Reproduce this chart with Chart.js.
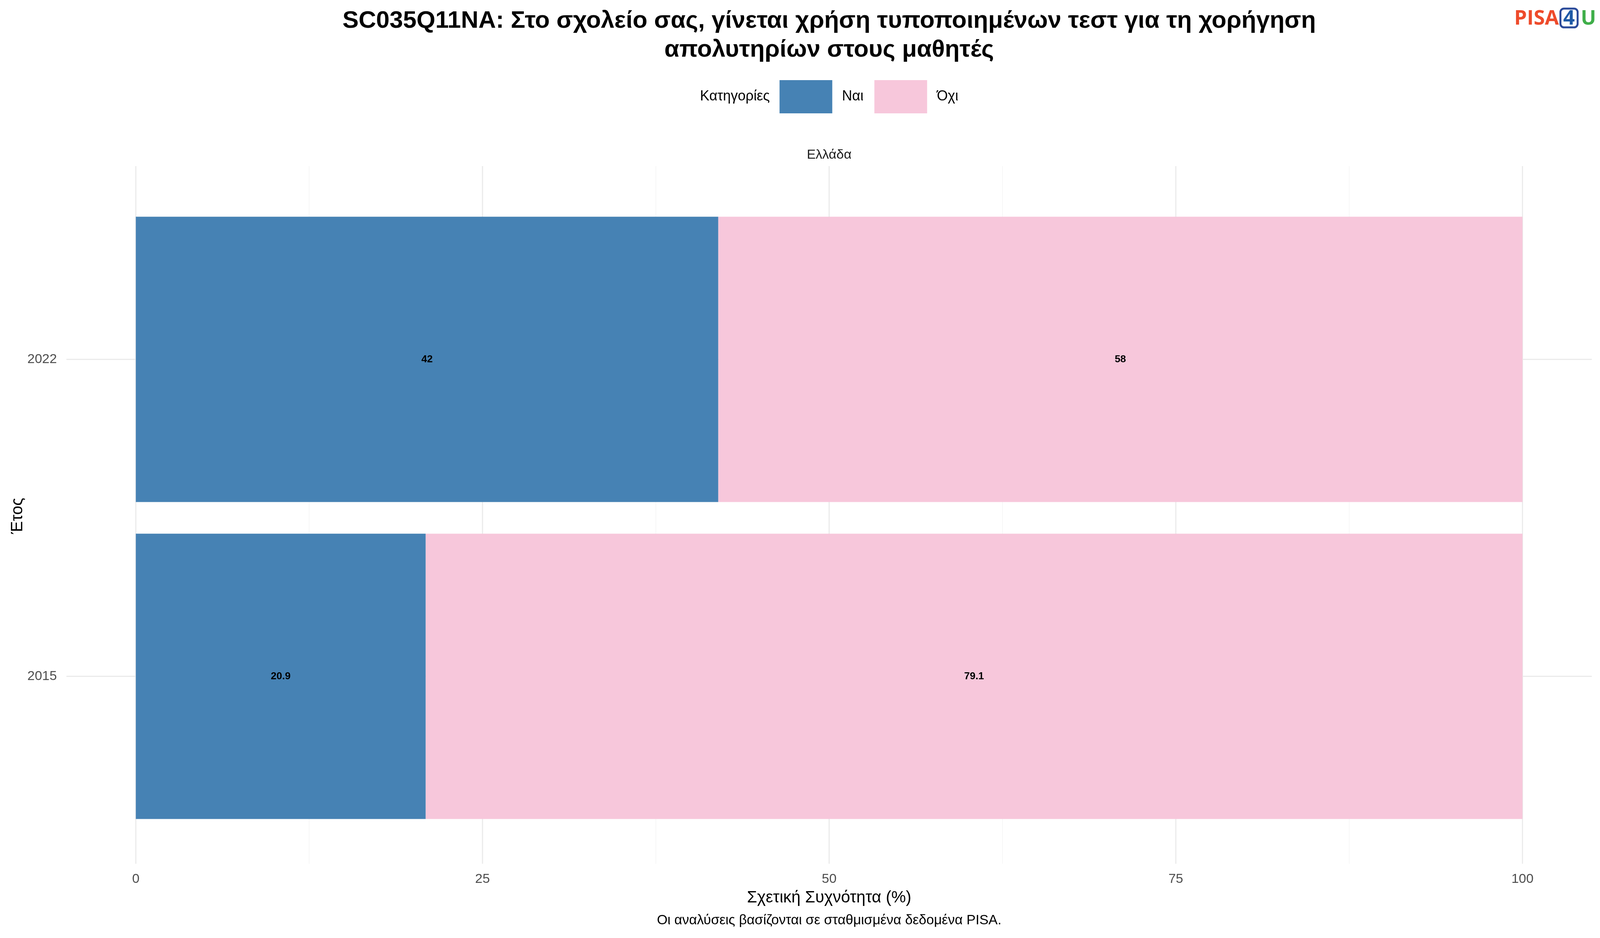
<!DOCTYPE html>
<html><head><meta charset="utf-8">
<script src="https://cdn.jsdelivr.net/npm/chart.js@4"></script>
<style>html,body{margin:0;padding:0;background:#fff;overflow:hidden}#w{width:100vw;height:100vh}</style>
</head><body><div id="w"><canvas id="c"></canvas></div>
<script>
const years = ['2022', '2015'];
const categories = ['Ναι', 'Όχι'];
const naiValues = [42, 20.9];
const ochiValues = [58, 79.1];
const xTicks = [0, 25, 50, 75, 100];
const colors = ['#4682B4', '#F7C7DB'];
const FONT = '"Liberation Sans", Arial, sans-serif';
const K = window.innerWidth / 4500;
const X = v => v * K;

const overlay = {
  id: 'overlay',
  beforeDatasetsDraw(chart) {
    const ctx = chart.ctx, xs = chart.scales.x;
    ctx.save();
    for (let v = 0; v <= 100; v += 12.5) {
      const px = xs.getPixelForValue(v);
      const major = v % 25 === 0;
      ctx.strokeStyle = major ? '#ebebeb' : '#f4f4f4';
      ctx.lineWidth = major ? 3 : 1.5;
      ctx.beginPath(); ctx.moveTo(px, 425); ctx.lineTo(px, 2210); ctx.stroke();
    }
    ctx.restore();
  },
  afterDraw(chart) {
    const ctx = chart.ctx, xs = chart.scales.x, ys = chart.scales.y;
    const cx = (chart.chartArea.left + chart.chartArea.right) / 2;
    ctx.save();
    ctx.textBaseline = 'middle';
    ctx.fillStyle = '#000'; ctx.textAlign = 'center';
    ctx.font = 'bold 62px ' + FONT;
    ctx.fillText('SC035Q11NA: Στο σχολείο σας, γίνεται χρήση τυποποιημένων τεστ για τη χορήγηση', cx, 54);
    ctx.fillText('απολυτηρίων στους μαθητές', cx, 128);
    // legend (centered group)
    ctx.font = '36px ' + FONT;
    const w0 = ctx.measureText('Κατηγορίες').width, w1 = ctx.measureText(categories[0]).width, w2 = ctx.measureText(categories[1]).width;
    const box = 135, gap = 25, gap2 = 28;
    const total = w0 + gap + box + gap + w1 + gap2 + box + gap + w2;
    let x = cx - total / 2;
    ctx.textAlign = 'left'; ctx.fillStyle = '#000';
    ctx.fillText('Κατηγορίες', x, 247); x += w0 + gap;
    ctx.fillStyle = colors[0]; ctx.fillRect(x, 205, box, 85); x += box + gap;
    ctx.fillStyle = '#000'; ctx.fillText(categories[0], x, 247); x += w1 + gap2;
    ctx.fillStyle = colors[1]; ctx.fillRect(x, 205, box, 85); x += box + gap;
    ctx.fillStyle = '#000'; ctx.fillText(categories[1], x, 247);
    ctx.textAlign = 'center'; ctx.font = '34px ' + FONT; ctx.fillStyle = '#1a1a1a';
    ctx.fillText('Ελλάδα', cx, 397);
    ctx.fillStyle = '#4d4d4d'; ctx.font = '34px ' + FONT;
    xTicks.forEach(v => ctx.fillText(String(v), xs.getPixelForValue(v), 2250));
    ctx.textAlign = 'right';
    years.forEach((y, i) => ctx.fillText(y, X(160), ys.getPixelForValue(i)));
    ctx.fillStyle = '#000'; ctx.textAlign = 'center'; ctx.font = '42px ' + FONT;
    ctx.fillText('Σχετική Συχνότητα (%)', cx, 2297);
    ctx.save(); ctx.translate(X(50), 1320); ctx.rotate(-Math.PI / 2);
    ctx.fillText('Έτος', 0, 0); ctx.restore();
    ctx.font = '35px ' + FONT;
    ctx.fillText('Οι αναλύσεις βασίζονται σε σταθμισμένα δεδομένα PISA.', cx, 2355);
    ctx.font = 'bold 26px ' + FONT; ctx.fillStyle = '#000';
    chart.data.datasets.forEach((ds, di) => {
      chart.getDatasetMeta(di).data.forEach((bar, i) => {
        ctx.fillText(String(ds.data[i]), (bar.x + bar.base) / 2, bar.y);
      });
    });
    // logo, right aligned
    ctx.font = 'bold 52px "Open Sans", ' + FONT;
    const pw = ctx.measureText('PISA').width, uw = ctx.measureText('U').width;
    const right = chart.width - 10;
    const ux = right - uw, bx = ux - 52, px = bx - 4 - pw;
    ctx.textAlign = 'left';
    ctx.fillStyle = '#EE4B2B'; ctx.fillText('PISA', px, 48);
    ctx.strokeStyle = '#2A4A9A'; ctx.lineWidth = 5;
    ctx.beginPath(); ctx.roundRect(bx, 22, 44, 48, 9); ctx.stroke();
    ctx.fillStyle = '#1F5AA6'; ctx.textAlign = 'center'; ctx.fillText('4', bx + 22, 48);
    ctx.fillStyle = '#3FAE49'; ctx.textAlign = 'left'; ctx.fillText('U', ux, 48);
    ctx.restore();
  }
};

new Chart(document.getElementById('c'), {
  type: 'bar',
  data: {
    labels: years,
    datasets: [
      { label: categories[0], data: naiValues, backgroundColor: colors[0] },
      { label: categories[1], data: ochiValues, backgroundColor: colors[1] }
    ]
  },
  options: {
    indexAxis: 'y', responsive: true, maintainAspectRatio: false, animation: false,
    devicePixelRatio: 1,
    layout: { padding: { left: 0, right: X(23), top: 514, bottom: 264 } },
    barPercentage: 0.9, categoryPercentage: 1,
    plugins: { legend: { display: false }, tooltip: { enabled: false } },
    scales: {
      x: { stacked: true, min: -5, max: 105, grid: { display: false }, border: { display: false },
           ticks: { display: false }, afterFit: s => { s.height = 0; } },
      y: { stacked: true, grid: { offset: false, color: '#ebebeb', lineWidth: 3, drawTicks: false },
           border: { display: false }, ticks: { display: false },
           afterFit: s => { s.width = X(187); } }
    }
  },
  plugins: [overlay]
});
</script></body></html>
